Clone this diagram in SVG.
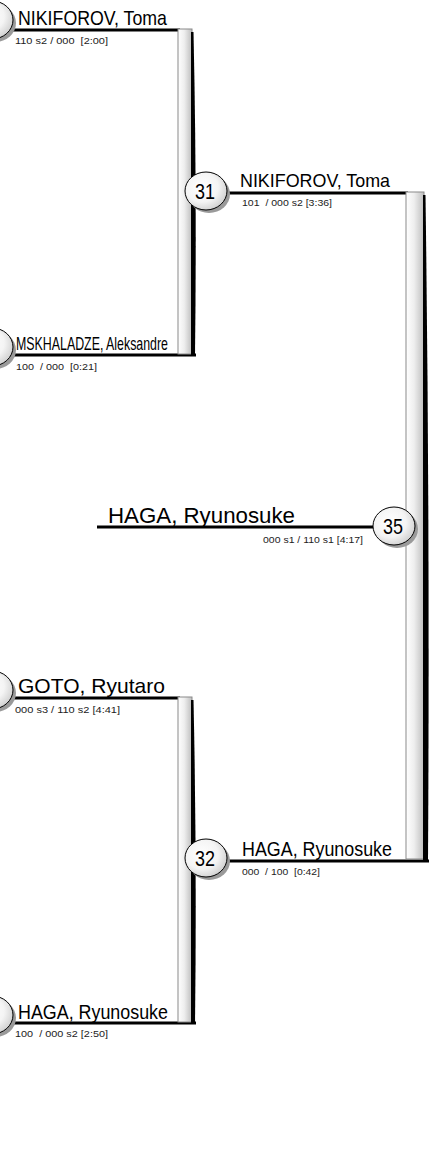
<svg xmlns="http://www.w3.org/2000/svg" width="430" height="1170" viewBox="0 0 430 1170">
<defs>
<linearGradient id="barG" x1="0" y1="0" x2="1" y2="0">
<stop offset="0" stop-color="#ffffff"/>
<stop offset="0.45" stop-color="#eeeeee"/>
<stop offset="1" stop-color="#bdbdbd"/>
</linearGradient>
<radialGradient id="circG" cx="0.4" cy="0.4" r="0.65">
<stop offset="0" stop-color="#ffffff"/>
<stop offset="0.6" stop-color="#f4f4f4"/>
<stop offset="1" stop-color="#cfcfcf"/>
</radialGradient>
</defs>
<style>
.bar{fill:url(#barG);stroke:#8a8a8a;stroke-width:1}
.shd{fill:#000}
.ln{stroke:#000;stroke-width:3;fill:none}
.c{fill:url(#circG);stroke:#000;stroke-width:1}
.cs{fill:#9a9a9a}
.nm{font-family:"Liberation Sans",Arial,sans-serif;fill:#000}
.sc{font-family:"Liberation Sans",Arial,sans-serif;font-size:9px;fill:#222}
.num{font-family:"Liberation Sans",Arial,sans-serif;font-size:22px;fill:#000;text-anchor:middle}
</style>

<g id="connectors">
<line class="ln" x1="0" y1="30" x2="180" y2="30"/>
<line class="ln" x1="0" y1="355" x2="196" y2="355"/>
<line class="ln" x1="224" y1="193" x2="408" y2="193"/>
<line class="ln" x1="97" y1="527" x2="373" y2="527"/>
<line class="ln" x1="0" y1="698" x2="180" y2="698"/>
<line class="ln" x1="0" y1="1023" x2="196" y2="1023"/>
<line class="ln" x1="224" y1="861" x2="429" y2="861"/>
</g>

<g id="bar31">
<rect class="bar" x="178" y="29" width="14" height="325"/>
<path class="shd" d="M191,32 L193.5,32 Q197,190 195,356 L191,356 Z"/>
</g>
<g id="bar35">
<rect class="bar" x="406" y="192" width="18" height="667"/>
<path class="shd" d="M423,195 L425.5,195 Q430,520 428,862 L423,862 Z"/>
</g>
<g id="bar32">
<rect class="bar" x="178" y="697" width="14" height="325"/>
<path class="shd" d="M191,700 L193.5,700 Q197,860 195,1024 L191,1024 Z"/>
</g>

<g id="n_top">
<ellipse class="cs" cx="-5" cy="23" rx="21" ry="19"/>
<ellipse class="c" cx="-8" cy="20" rx="21" ry="19"/>
<text class="nm" x="18" y="25" font-size="21" textLength="149" lengthAdjust="spacingAndGlyphs">NIKIFOROV, Toma</text>
<text class="sc" x="15" y="44" xml:space="preserve" textLength="93" lengthAdjust="spacingAndGlyphs">110 s2 / 000  [2:00]</text>
</g>

<g id="n_mskhaladze">
<ellipse class="cs" cx="-5" cy="350" rx="21" ry="19"/>
<ellipse class="c" cx="-8" cy="347" rx="21" ry="19"/>
<text class="nm" x="16" y="350" font-size="19" textLength="152" lengthAdjust="spacingAndGlyphs">MSKHALADZE, Aleksandre</text>
<text class="sc" x="16" y="370" xml:space="preserve" textLength="81" lengthAdjust="spacingAndGlyphs">100  / 000  [0:21]</text>
</g>

<g id="n31">
<ellipse class="cs" cx="209" cy="194" rx="21" ry="19"/>
<ellipse class="c" cx="206" cy="191" rx="21" ry="19"/>
<text class="num" x="205" y="199" textLength="20" lengthAdjust="spacingAndGlyphs">31</text>
<text class="nm" x="240" y="187" font-size="19" textLength="150" lengthAdjust="spacingAndGlyphs">NIKIFOROV, Toma</text>
<text class="sc" x="242" y="206" xml:space="preserve" textLength="90" lengthAdjust="spacingAndGlyphs">101  / 000 s2 [3:36]</text>
</g>

<g id="n35">
<ellipse class="cs" cx="397" cy="529" rx="21" ry="19"/>
<ellipse class="c" cx="394" cy="526" rx="21" ry="19"/>
<text class="num" x="393" y="534" textLength="20" lengthAdjust="spacingAndGlyphs">35</text>
<text class="nm" x="108" y="523" font-size="22" textLength="187" lengthAdjust="spacingAndGlyphs">HAGA, Ryunosuke</text>
<text class="sc" x="263" y="543" xml:space="preserve" textLength="100" lengthAdjust="spacingAndGlyphs">000 s1 / 110 s1 [4:17]</text>
</g>

<g id="n_goto">
<ellipse class="cs" cx="-5" cy="693" rx="21" ry="19"/>
<ellipse class="c" cx="-8" cy="690" rx="21" ry="19"/>
<text class="nm" x="18" y="693" font-size="21" textLength="147" lengthAdjust="spacingAndGlyphs">GOTO, Ryutaro</text>
<text class="sc" x="15" y="713" xml:space="preserve" textLength="105" lengthAdjust="spacingAndGlyphs">000 s3 / 110 s2 [4:41]</text>
</g>

<g id="n32">
<ellipse class="cs" cx="209" cy="861" rx="21" ry="19"/>
<ellipse class="c" cx="206" cy="858" rx="21" ry="19"/>
<text class="num" x="205" y="866" textLength="20" lengthAdjust="spacingAndGlyphs">32</text>
<text class="nm" x="242" y="856" font-size="20" textLength="150" lengthAdjust="spacingAndGlyphs">HAGA, Ryunosuke</text>
<text class="sc" x="242" y="875" xml:space="preserve" textLength="78" lengthAdjust="spacingAndGlyphs">000  / 100  [0:42]</text>
</g>

<g id="n_haga_bottom">
<ellipse class="cs" cx="-5" cy="1018" rx="21" ry="19"/>
<ellipse class="c" cx="-8" cy="1015" rx="21" ry="19"/>
<text class="nm" x="18" y="1019" font-size="20" textLength="150" lengthAdjust="spacingAndGlyphs">HAGA, Ryunosuke</text>
<text class="sc" x="15" y="1037" xml:space="preserve" textLength="93" lengthAdjust="spacingAndGlyphs">100  / 000 s2 [2:50]</text>
</g>
</svg>
